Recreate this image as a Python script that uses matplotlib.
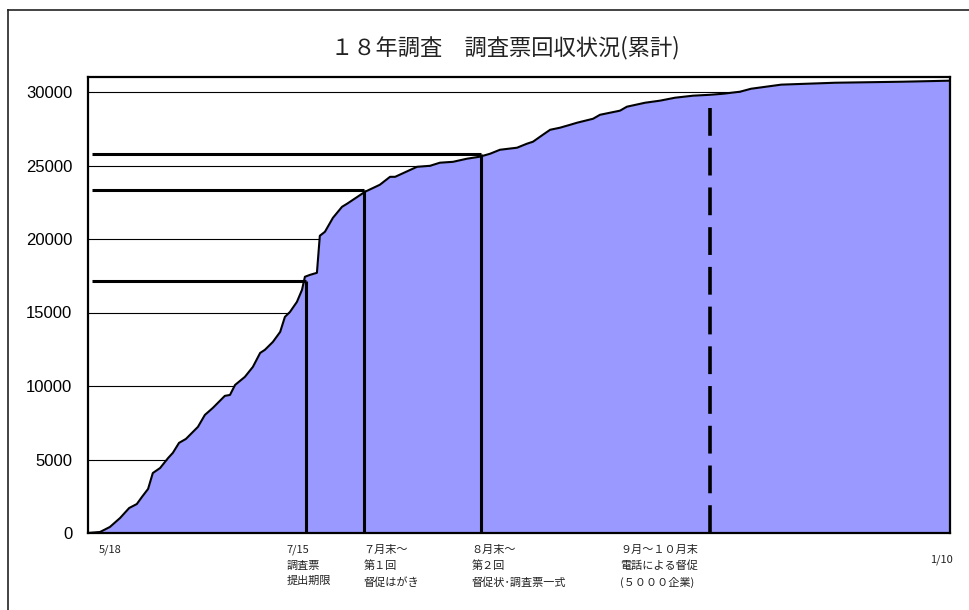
import matplotlib
matplotlib.use("Agg")
import matplotlib.pyplot as plt
from matplotlib.lines import Line2D

plt.rcParams['font.family'] = ['Noto Sans CJK JP', 'DejaVu Sans']
plt.rcParams['lines.scale_dashes'] = False

# days since 5/18 and cumulative number of returned forms
days = [0, 3.4, 6.1, 8.9, 11.4, 13.5, 14.9, 16.6, 17.9, 19.9, 22.1, 23.4, 25.1, 27.0,
        30.3, 32.2, 34.4, 37.7, 39.1, 40.5, 43.2, 45.4, 47.4, 48.7, 50.9, 52.9, 54.2,
        55.6, 57.5, 58.9, 59.7, 61.1, 63.0, 63.8, 65.2, 67.4, 69.9, 71.3, 76.2, 80.3,
        83.1, 84.5, 90.5, 94.1, 96.8, 100.4, 104.2, 107.8, 110.6, 113.3, 118.0, 120.7,
        122.4, 125.1, 127.1, 129.8, 132.6, 134.5, 138.9, 140.8, 146.3, 148.2, 153.2,
        157.3, 161.4, 166.4, 171.0, 174.6, 179.3, 182.3, 190.6, 205.4, 224.1, 237]
returned = [0, 70, 410, 1020, 1700, 1970, 2450, 3000, 4080, 4420, 5100, 5450, 6130, 6400,
            7220, 8030, 8510, 9330, 9390, 10070, 10620, 11300, 12250, 12460, 13000, 13680,
            14700, 15040, 15720, 16540, 17430, 17560, 17700, 20220, 20490, 21440, 22190,
            22400, 23210, 23690, 24230, 24230, 24910, 24980, 25190, 25250, 25460, 25600,
            25800, 26070, 26210, 26480, 26620, 27090, 27430, 27570, 27770, 27910, 28180,
            28450, 28730, 29000, 29270, 29410, 29610, 29750, 29810, 29880, 30020, 30220,
            30500, 30630, 30700, 30770]

# deadline / reminder events
event_days = [60, 76, 108]
event_values = [17150, 23350, 25800]
phone_day = 171

label_days = [3.1, 54.7, 75.8, 105.5, 146.3]
label_texts = ['5/18',
               '7/15\n調査票\n提出期限',
               '７月末～\n第１回\n督促はがき',
               '８月末～\n第２回\n督促状･調査票一式',
               '９月～１０月末\n電話による督促\n(５０００企業)']
end_label = '1/10'
yticks = [0, 5000, 10000, 15000, 20000, 25000, 30000]

fig = plt.figure(figsize=(9.7, 6.1), dpi=100)
ax = fig.add_axes([87.7 / 970, 77 / 610, (950 - 87.7) / 970, (533 - 77.3) / 610])

ax.fill_between(days, returned, color='#9999FF', zorder=2, linewidth=0)
ax.plot(days, returned, color='black', lw=1.5, zorder=3)

for d, v in zip(event_days, event_values):
    ax.plot([1.3, d], [v, v], color='black', lw=2.2, zorder=4, solid_capstyle='butt')
    ax.plot([d, d], [0, v], color='black', lw=2.2, zorder=4, solid_capstyle='butt')
ax.plot([phone_day, phone_day], [0, 29150], color='black', lw=2.6,
        dashes=(20, 8.6), zorder=4)

ax.set_xlim(0, 237)
ax.set_ylim(0, 31000)
ax.set_yticks(yticks)
ax.set_yticklabels([str(t) for t in yticks], family='Liberation Sans', fontsize=12)
ax.tick_params(axis='y', length=0, pad=11)
ax.set_xticks([])
ax.yaxis.grid(True, color='black', lw=0.8)
ax.set_axisbelow(True)
for s in ax.spines.values():
    s.set_linewidth(1.6)

tr = ax.get_xaxis_transform()
for d, t in zip(label_days, label_texts):
    ax.text(d, -0.026, t, transform=tr, ha='left', va='top', fontsize=8,
            linespacing=1.65, color='#222222')
ax.text(237.8, -0.047, end_label, transform=tr, ha='right', va='top', fontsize=8,
        color='#222222')

fig.text(505 / 970, 1 - 48 / 610, '１８年調査　調査票回収状況(累計)',
         ha='center', va='center', fontsize=16, color='#222222')

# outer chart frame (cut by the picture edges on right and bottom)
fy = 1 - 10 / 610
fx = 8 / 970
fig.add_artist(Line2D([fx, 1.0], [fy, fy], transform=fig.transFigure, color='#222222', lw=1.2))
fig.add_artist(Line2D([fx, fx], [0, fy], transform=fig.transFigure, color='#222222', lw=1.2))

fig.savefig('out.png', dpi=100)
